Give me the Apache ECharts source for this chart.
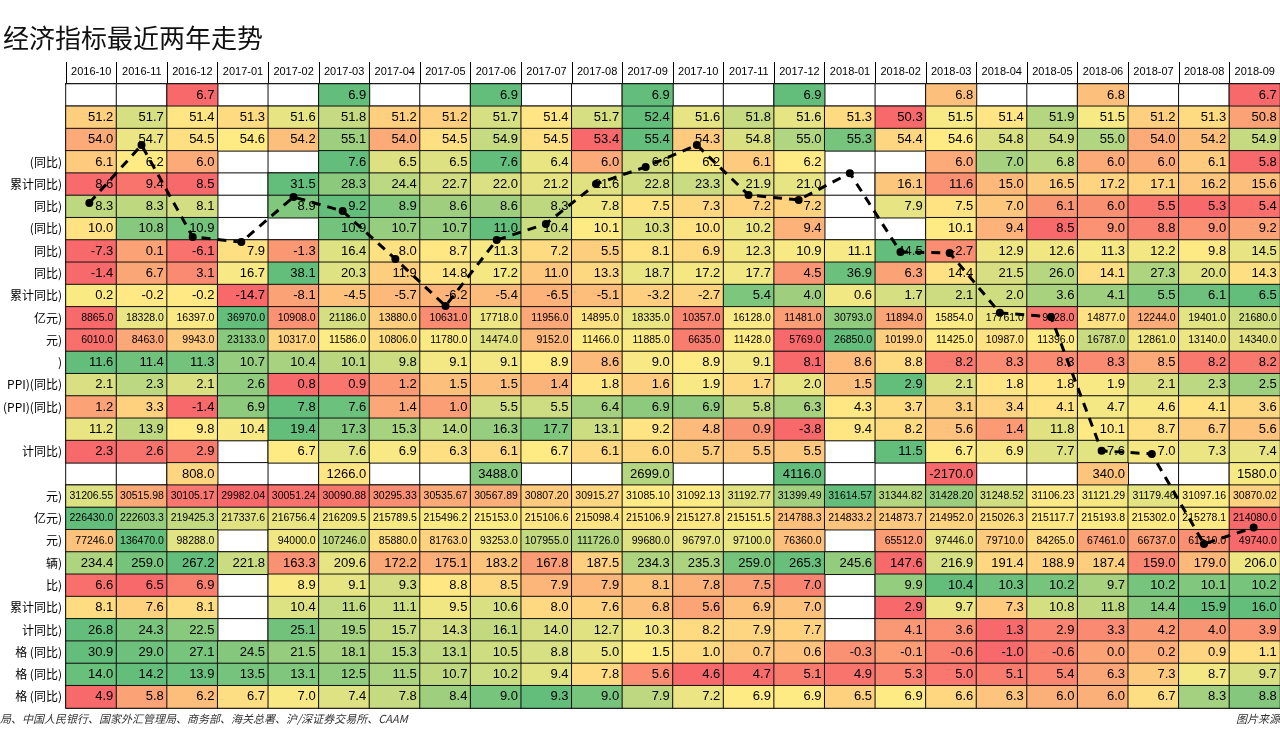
<!DOCTYPE html>
<html>
<head>
<meta charset="utf-8">
<script src="https://cdn.jsdelivr.net/npm/echarts@6/dist/echarts.min.js"></script>
<style>
  html, body { margin: 0; padding: 0; background: #fff; }
  #chart { width: 1280px; height: 732px; }
</style>
</head>
<body>
<div id="chart"></div>
<script>
const months = ['2016-10', '2016-11', '2016-12', '2017-01', '2017-02', '2017-03', '2017-04', '2017-05',
  '2017-06', '2017-07', '2017-08', '2017-09', '2017-10', '2017-11', '2017-12', '2018-01', '2018-02',
  '2018-03', '2018-04', '2018-05', '2018-06', '2018-07', '2018-08', '2018-09'];

// visible (cut) row labels
const rowLabels = ['', '', '', '(同比)', '累计同比)', '同比)', '(同比)', '同比)', '同比)', '累计同比)',
  '亿元)', '元)', ')', 'PPI)(同比)', '(PPI)(同比)', '', '计同比)', '', '元)', '亿元)', '元)', '辆)',
  '比)', '累计同比)', '计同比)', '格 (同比)', '格 (同比)', '格 (同比)'];

const gdp = [null, null, 6.7, null, null, 6.9, null, null, 6.9, null, null, 6.9, null, null, 6.9, null, null, 6.8, null, null, 6.8, null, null, 6.7];
const pmi = [51.2, 51.7, 51.4, 51.3, 51.6, 51.8, 51.2, 51.2, 51.7, 51.4, 51.7, 52.4, 51.6, 51.8, 51.6, 51.3, 50.3, 51.5, 51.4, 51.9, 51.5, 51.2, 51.3, 50.8];
const pmiNonMfg = [54.0, 54.7, 54.5, 54.6, 54.2, 55.1, 54.0, 54.5, 54.9, 54.5, 53.4, 55.4, 54.3, 54.8, 55.0, 55.3, 54.4, 54.6, 54.8, 54.9, 55.0, 54.0, 54.2, 54.9];
const industry = [6.1, 6.2, 6.0, null, null, 7.6, 6.5, 6.5, 7.6, 6.4, 6.0, 6.6, 6.2, 6.1, 6.2, null, null, 6.0, 7.0, 6.8, 6.0, 6.0, 6.1, 5.8];
const profitYtd = [8.6, 9.4, 8.5, null, 31.5, 28.3, 24.4, 22.7, 22.0, 21.2, 21.6, 22.8, 23.3, 21.9, 21.0, null, 16.1, 11.6, 15.0, 16.5, 17.2, 17.1, 16.2, 15.6];
const fai = [8.3, 8.3, 8.1, null, 8.9, 9.2, 8.9, 8.6, 8.6, 8.3, 7.8, 7.5, 7.3, 7.2, 7.2, null, 7.9, 7.5, 7.0, 6.1, 6.0, 5.5, 5.3, 5.4];
const retail = [10.0, 10.8, 10.9, null, null, 10.9, 10.7, 10.7, 11.0, 10.4, 10.1, 10.3, 10.0, 10.2, 9.4, null, null, 10.1, 9.4, 8.5, 9.0, 8.8, 9.0, 9.2];
const exportsYoy = [-7.3, 0.1, -6.1, 7.9, -1.3, 16.4, 8.0, 8.7, 11.3, 7.2, 5.5, 8.1, 6.9, 12.3, 10.9, 11.1, 44.5, -2.7, 12.9, 12.6, 11.3, 12.2, 9.8, 14.5];
const importsYoy = [-1.4, 6.7, 3.1, 16.7, 38.1, 20.3, 11.9, 14.8, 17.2, 11.0, 13.3, 18.7, 17.2, 17.7, 4.5, 36.9, 6.3, 14.4, 21.5, 26.0, 14.1, 27.3, 20.0, 14.3];
const fdiYtd = [0.2, -0.2, -0.2, -14.7, -8.1, -4.5, -5.7, -6.2, -5.4, -6.5, -5.1, -3.2, -2.7, 5.4, 4.0, 0.6, 1.7, 2.1, 2.0, 3.6, 4.1, 5.5, 6.1, 6.5];
const socialFin = [8865.0, 18328.0, 16397.0, 36970.0, 10908.0, 21186.0, 13880.0, 10631.0, 17718.0, 11956.0, 14895.0, 18335.0, 10357.0, 16128.0, 11481.0, 30793.0, 11894.0, 15854.0, 17761.0, 9528.0, 14877.0, 12244.0, 19401.0, 21680.0];
const newLoans = [6010.0, 8463.0, 9943.0, 23133.0, 10317.0, 11586.0, 10806.0, 11780.0, 14474.0, 9152.0, 11466.0, 11885.0, 6635.0, 11428.0, 5769.0, 26850.0, 10199.0, 11425.0, 10987.0, 11396.0, 16787.0, 12861.0, 13140.0, 14340.0];
const m2 = [11.6, 11.4, 11.3, 10.7, 10.4, 10.1, 9.8, 9.1, 9.1, 8.9, 8.6, 9.0, 8.9, 9.1, 8.1, 8.6, 8.8, 8.2, 8.3, 8.3, 8.3, 8.5, 8.2, 8.2];
const cpi = [2.1, 2.3, 2.1, 2.6, 0.8, 0.9, 1.2, 1.5, 1.5, 1.4, 1.8, 1.6, 1.9, 1.7, 2.0, 1.5, 2.9, 2.1, 1.8, 1.8, 1.9, 2.1, 2.3, 2.5];
const ppi = [1.2, 3.3, -1.4, 6.9, 7.8, 7.6, 1.4, 1.0, 5.5, 5.5, 6.4, 6.9, 6.9, 5.8, 6.3, 4.3, 3.7, 3.1, 3.4, 4.1, 4.7, 4.6, 4.1, 3.6];
const m1 = [11.2, 13.9, 9.8, 10.4, 19.4, 17.3, 15.3, 14.0, 16.3, 17.7, 13.1, 9.2, 4.8, 0.9, -3.8, 9.4, 8.2, 5.6, 1.4, 11.8, 10.1, 8.7, 6.7, 5.6];
const fiscalYtd = [2.3, 2.6, 2.9, null, 6.7, 7.6, 6.9, 6.3, 6.1, 6.7, 6.1, 6.0, 5.7, 5.5, 5.5, null, 11.5, 6.7, 6.9, 7.7, 7.6, 7.0, 7.3, 7.4];
const bop = [null, null, 808.0, null, null, 1266.0, null, null, 3488.0, null, null, 2699.0, null, null, 4116.0, null, null, -2170.0, null, null, 340.0, null, null, 1580.0];
const fxReserve = [31206.55, 30515.98, 30105.17, 29982.04, 30051.24, 30090.88, 30295.33, 30535.67, 30567.89, 30807.20, 30915.27, 31085.10, 31092.13, 31192.77, 31399.49, 31614.57, 31344.82, 31428.20, 31248.52, 31106.23, 31121.29, 31179.46, 31097.16, 30870.02];
const fxPosition = [226430.0, 222603.3, 219425.3, 217337.6, 216756.4, 216209.5, 215789.5, 215496.2, 215153.0, 215106.6, 215098.4, 215106.9, 215127.8, 215151.5, 214788.3, 214833.2, 214873.7, 214952.0, 215026.3, 215117.7, 215193.8, 215302.0, 215278.1, 214080.0];
const stockTurnover = [77246.0, 136470.0, 98288.0, null, 94000.0, 107246.0, 85880.0, 81763.0, 93253.0, 107955.0, 111726.0, 99680.0, 96797.0, 97100.0, 76360.0, null, 65512.0, 97446.0, 79710.0, 84265.0, 67461.0, 66737.0, 61510.0, 49740.0];
const autoSales = [234.4, 259.0, 267.2, 221.8, 163.3, 209.6, 172.2, 175.1, 183.2, 167.8, 187.5, 234.3, 235.3, 259.0, 265.3, 245.6, 147.6, 216.9, 191.4, 188.9, 187.4, 159.0, 179.0, 206.0];
const retailYtd = [6.6, 6.5, 6.9, null, 8.9, 9.1, 9.3, 8.8, 8.5, 7.9, 7.9, 8.1, 7.8, 7.5, 7.0, null, 9.9, 10.4, 10.3, 10.2, 9.7, 10.2, 10.1, 10.2];
const privInvYtd = [8.1, 7.6, 8.1, null, 10.4, 11.6, 11.1, 9.5, 10.6, 8.0, 7.6, 6.8, 5.6, 6.9, 7.0, null, 2.9, 9.7, 7.3, 10.8, 11.8, 14.4, 15.9, 16.0];
const infraYtd = [26.8, 24.3, 22.5, null, 25.1, 19.5, 15.7, 14.3, 16.1, 14.0, 12.7, 10.3, 8.2, 7.9, 7.7, null, 4.1, 3.6, 1.3, 2.9, 3.3, 4.2, 4.0, 3.9];
const housePrice1 = [30.9, 29.0, 27.1, 24.5, 21.5, 18.1, 15.3, 13.1, 10.5, 8.8, 5.0, 1.5, 1.0, 0.7, 0.6, -0.3, -0.1, -0.6, -1.0, -0.6, 0.0, 0.2, 0.9, 1.1];
const housePrice2 = [14.0, 14.2, 13.9, 13.5, 13.1, 12.5, 11.5, 10.7, 10.2, 9.4, 7.8, 5.6, 4.6, 4.7, 5.1, 4.9, 5.3, 5.0, 5.1, 5.4, 6.3, 7.3, 8.7, 9.7];
const housePrice3 = [4.9, 5.8, 6.2, 6.7, 7.0, 7.4, 7.8, 8.4, 9.0, 9.3, 9.0, 7.9, 7.2, 6.9, 6.9, 6.5, 6.9, 6.6, 6.3, 6.0, 6.0, 6.7, 8.3, 8.8];

// dashed trend line, [column, row] positions in cell units
const trendX = [0.50, 1.53, 2.54, 3.50, 4.53, 5.50, 6.54, 7.53, 8.54, 9.51, 10.50, 11.48, 12.49, 13.51, 14.50, 15.51, 16.51, 17.48, 18.47, 19.48, 20.48, 21.47, 22.50, 23.48];
const trendY = [5.34, 2.74, 6.86, 7.09, 5.07, 5.70, 7.85, 9.96, 7.00, 6.28, 4.49, 3.72, 2.74, 4.98, 5.20, 4.00, 7.54, 7.58, 10.27, 10.45, 16.46, 16.60, 20.64, 19.90];

const rows = [gdp, pmi, pmiNonMfg, industry, profitYtd, fai, retail, exportsYoy, importsYoy, fdiYtd,
  socialFin, newLoans, m2, cpi, ppi, m1, fiscalYtd, bop, fxReserve, fxPosition, stockTurnover, autoSales,
  retailYtd, privInvYtd, infraYtd, housePrice1, housePrice2, housePrice3];
// rows printed with the small font
const smallRows = [socialFin, newLoans, fxReserve, fxPosition, stockTurnover];

// 3-colour scale per row: min -> red, median -> yellow, max -> green
function scaleRow(vals) {
  const v = vals.filter(d => d !== null).sort((a, b) => a - b);
  const min = v[0], max = v[v.length - 1];
  const mid = v.length % 2 ? v[(v.length - 1) / 2] : (v[v.length / 2 - 1] + v[v.length / 2]) / 2;
  return vals.map(d => {
    if (d === null) return null;
    if (d <= mid) return mid === min ? 0.5 : 0.5 * (d - min) / (mid - min);
    return max === mid ? 0.5 : 0.5 + 0.5 * (d - mid) / (max - mid);
  });
}

const cells = [];
const blanks = [];
rows.forEach((vals, r) => {
  const t = scaleRow(vals);
  const small = smallRows.includes(vals);
  vals.forEach((d, c) => {
    blanks.push([c, r, 0]);
    if (d !== null) {
      cells.push({
        value: [c, r, t[c], d],
        label: { fontSize: small ? 10.5 : 13 }
      });
    }
  });
});
const nRows = rows.length;

let chart = echarts.init(document.getElementById('chart'));
const gridPos = { left: 64, top: 84, width: 1240, height: 624 };
let option = {
  animation: false,
  title: {
    text: '经济指标最近两年走势',
    left: -2, top: 20,
    textStyle: { fontSize: 26, fontWeight: 'normal', color: '#111', fontFamily: 'Noto Sans CJK SC' }
  },
  graphic: [
    {
      type: 'text', left: 0, top: 713,
      style: { text: '局、中国人民银行、国家外汇管理局、商务部、海关总署、沪/深证券交易所、CAAM', fontSize: 11, fontStyle: 'italic', fill: '#333', fontFamily: 'Noto Sans CJK SC' }
    },
    {
      type: 'text', left: 1236, top: 713,
      style: { text: '图片来源', fontSize: 11, fontStyle: 'italic', fill: '#333', fontFamily: 'Noto Sans CJK SC' }
    }
  ],
  grid: [
    Object.assign({}, gridPos),
    Object.assign({}, gridPos)
  ],
  xAxis: [
    {
      type: 'category', data: months, position: 'top', gridIndex: 0,
      axisLine: { lineStyle: { color: '#000', width: 2 } },
      axisTick: { show: true, interval: 0, inside: false, length: 22, lineStyle: { color: '#000' } },
      axisLabel: { interval: 0, color: '#000', fontSize: 11, margin: 7, fontFamily: 'Liberation Sans' },
      splitLine: { show: false }
    },
    { type: 'value', gridIndex: 1, min: 0, max: 24, show: false }
  ],
  yAxis: [
    {
      type: 'category', data: rowLabels, inverse: true, gridIndex: 0,
      axisLine: { show: false }, axisTick: { show: false },
      axisLabel: { interval: 0, color: '#000', fontSize: 12, margin: 4, fontFamily: 'Noto Sans CJK SC' }
    },
    { type: 'value', gridIndex: 1, min: 0, max: nRows, inverse: true, show: false }
  ],
  visualMap: {
    show: false, seriesIndex: 1, dimension: 2, min: 0, max: 1,
    inRange: { color: ['#F8696B', '#FFEB84', '#63BE7B'] }
  },
  series: [
    {
      type: 'heatmap', xAxisIndex: 0, yAxisIndex: 0, data: blanks,
      itemStyle: { color: '#fff', borderColor: '#111', borderWidth: 1 },
      silent: true
    },
    {
      type: 'heatmap', xAxisIndex: 0, yAxisIndex: 0, data: cells,
      itemStyle: { borderColor: '#111', borderWidth: 1 },
      label: {
        show: true, position: 'insideRight', distance: 4, color: '#000',
        fontFamily: 'Liberation Sans',
        formatter: p => {
          const v = p.value[3];
          return p.value[1] === 18 ? v.toFixed(2) : v.toFixed(1);
        }
      }
    },
    {
      type: 'line', xAxisIndex: 1, yAxisIndex: 1,
      data: trendX.map((x, i) => [x, trendY[i]]),
      symbol: 'circle', symbolSize: 8,
      itemStyle: { color: '#000' },
      lineStyle: { color: '#000', width: 3, type: [9, 7] },
      z: 10, silent: true
    }
  ]
};
chart.setOption(option);
window.addEventListener('resize', () => { chart.resize(); });
</script>
</body>
</html>
